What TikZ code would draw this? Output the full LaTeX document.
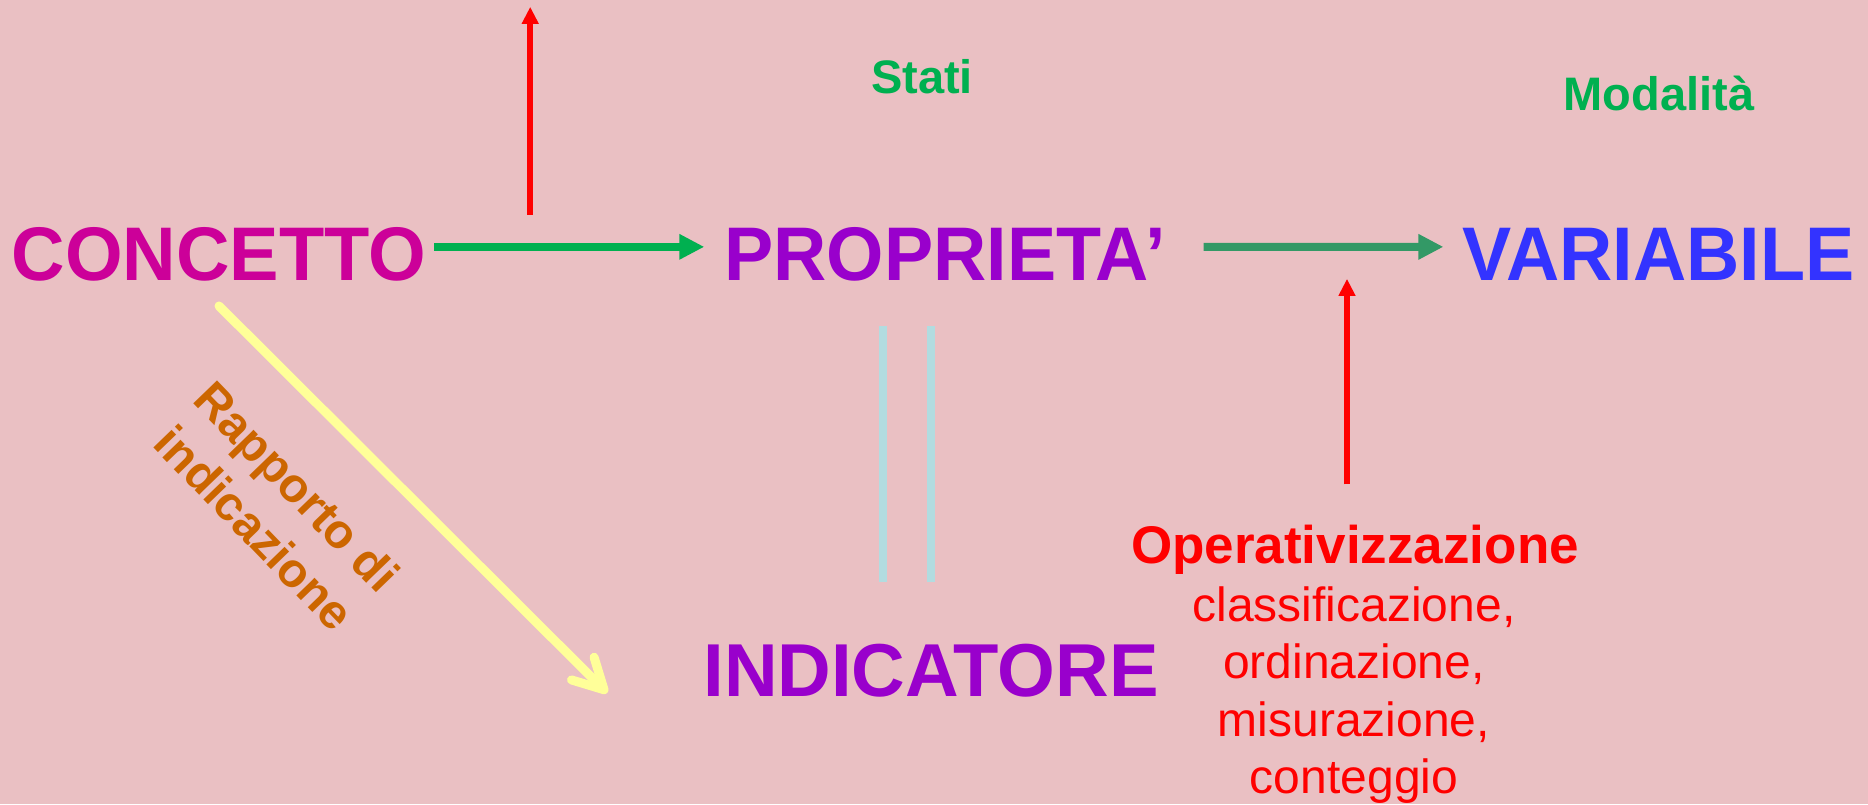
\documentclass[tikz,border=0pt]{standalone}
\usepackage{fontspec}
\setmainfont{Liberation Sans}
\usetikzlibrary{arrows.meta,calc}

\definecolor{paper}{RGB}{234,192,195}
\definecolor{cmagenta}{RGB}{204,0,153}
\definecolor{cpurple}{RGB}{153,0,204}
\definecolor{cblue}{RGB}{51,51,255}
\definecolor{cgreen}{RGB}{0,176,80}
\definecolor{cteal}{RGB}{51,153,102}
\definecolor{cred}{RGB}{255,0,0}
\definecolor{ccyan}{RGB}{178,220,224}
\definecolor{cyellow}{RGB}{255,255,153}
\definecolor{corange}{RGB}{204,102,0}

\tikzset{
  bigword/.style={inner sep=0pt, anchor=base, font=\fontsize{76}{80}\selectfont\bfseries},
  stateword/.style={inner sep=0pt, anchor=base, text=cgreen, font=\fontsize{47}{54}\selectfont\bfseries},
  opmain/.style={inner sep=0pt, anchor=base, text=cred, font=\fontsize{53}{60}\selectfont\bfseries},
  opline/.style={inner sep=0pt, anchor=base, text=cred, font=\fontsize{48}{55}\selectfont},
  rellabel/.style={inner sep=0pt, align=center, text=corange, font=\fontsize{48}{59}\selectfont\bfseries},
  garrow/.style={line width=8pt, -{Triangle[length=25pt,width=24pt]}},
  rarrow/.style={line width=5.5pt, cred, -{Triangle[length=17pt,width=16pt]}},
  eqbar/.style={line width=8pt, ccyan},
  indarrow/.style={line width=9pt, cyellow, line cap=round, -{Straight Barb[length=30pt,width=32pt,round]}}
}

\begin{document}
\begin{tikzpicture}[x=1pt,y=-1pt]
  % paper background
  \fill[paper] (0,0) rectangle (1868,804);
  \useasboundingbox (0,0) rectangle (1868,804);

  % main terms
  \node[bigword, xscale=0.975, text=cmagenta] (concetto) at (219,280) {CONCETTO};
  \node[bigword, xscale=0.97, text=cpurple]  (prop)     at (945,280) {PROPRIETA’};
  \node[bigword, xscale=0.97, text=cblue]    (var)      at (1658.5,280) {VARIABILE};
  \node[bigword, xscale=0.99, text=cpurple, font=\fontsize{75}{80}\selectfont\bfseries] (ind) at (931,696) {INDICATORE};

  % labels above the arrows
  \node[stateword] (stati) at (922,93) {Stati};
  \node[stateword] (modal) at (1659,110) {Modalità};

  % operationalisation block
  \node[opmain] (op)  at (1355,563) {Operativizzazione};
  \node[opline] (op1) at (1354,621) {classificazione,};
  \node[opline] (op2) at (1354,678) {ordinazione,};
  \node[opline] (op3) at (1354,736) {misurazione,};
  \node[opline] (op4) at (1354,793) {conteggio};

  % indication relation label
  \node[rellabel, rotate=-46] (rap) at (276,507) {Rapporto di\\indicazione};

  % concept -> property -> variable
  \draw[garrow, cgreen] ($(concetto.east)+(8,-7)$) coordinate (g1s)
        -- ($(prop.west)+(-20,-7)$) coordinate (g1e);
  \draw[garrow, cteal] ($(prop.east)+(38,-7)$) coordinate (g2s)
        -- ($(var.west)+(-19,-7)$) coordinate (g2e);

  % red arrows
  \coordinate (r1s) at ($(g1s)!0.355!(g1e)+(0,-32)$);
  \coordinate (r1e) at ($(r1s)+(0,-208)$);
  \draw[rarrow] (r1s) -- (r1e);
  \draw[rarrow] ($(op.north)+(-8,-40)$) coordinate (r2s) -- ($(r2s |- g2s)+(0,32)$) coordinate (r2e);

  % equivalence bars between property and indicator
  \draw[eqbar] ($(prop.south)+(-62,45)$) coordinate (b1t) -- ($(ind.north)+(-48,-61)$) coordinate (b1b);
  \draw[eqbar] ($(prop.south)+(-14,45)$) coordinate (b2t) -- ($(ind.north)+(0,-61)$) coordinate (b2b);

  % indication arrow towards the indicator
  \draw[indarrow] ($(concetto.south)+(0,25)$) -- ($(ind.south west)+(-96,-4)$) coordinate (yend);
\end{tikzpicture}
\end{document}
